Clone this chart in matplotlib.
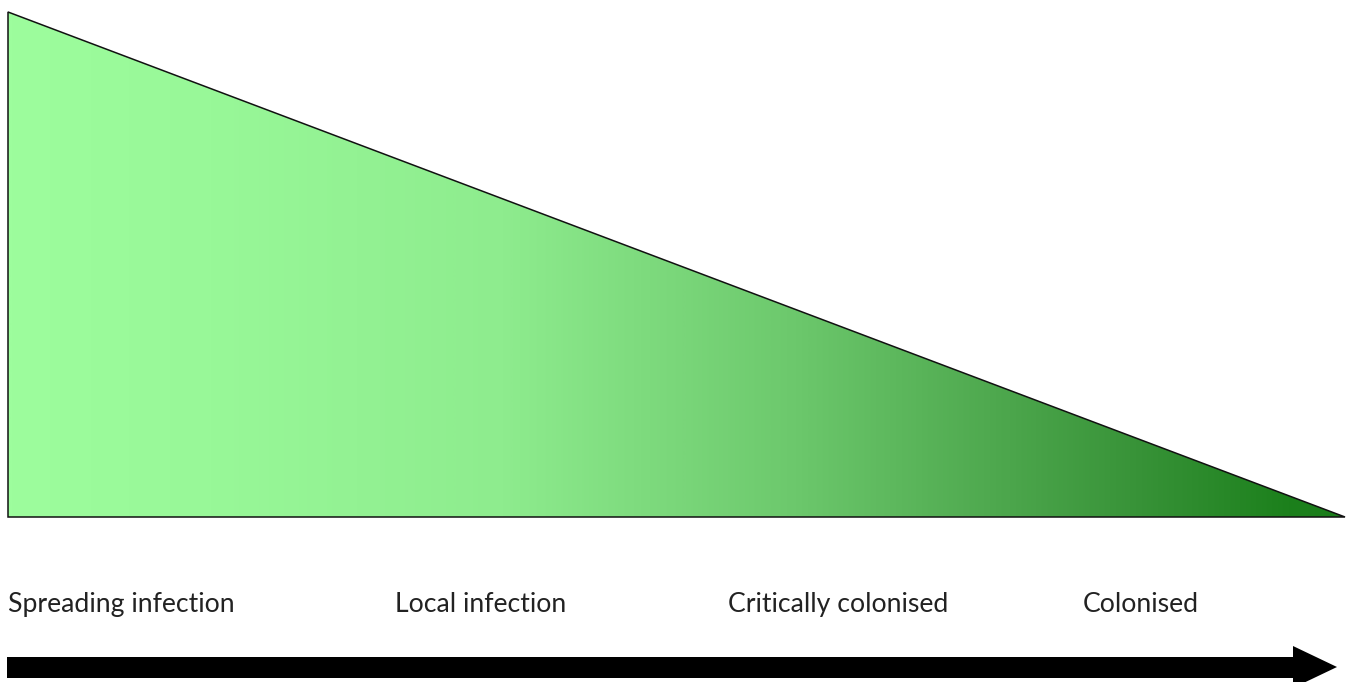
import numpy as np
import matplotlib
matplotlib.use('Agg')
import matplotlib.pyplot as plt
from matplotlib.patches import Polygon
from matplotlib.colors import LinearSegmentedColormap

# stage labels along the bottom, left to right
stages = ['Spreading infection', 'Local infection', 'Critically colonised', 'Colonised']
stage_x = [8, 395, 728, 1083]

# gradient colours sampled along the triangle (fraction of width, colour)
grad_pos = [0.0, 0.15, 0.37, 0.59, 0.74, 0.85, 0.96, 1.0]
grad_col = ['#9dfd9d', '#98f898', '#8eec8e', '#6cc86c', '#4ea84e', '#379237', '#1c801c', '#1a7d1a']

W, H = 1354, 682
tri = [(8, 12), (8, 517), (1345, 517)]

fig = plt.figure(figsize=(W / 100, H / 100), dpi=100)
ax = fig.add_axes([0, 0, 1, 1])
ax.set_xlim(0, W)
ax.set_ylim(H, 0)
ax.axis('off')

cmap = LinearSegmentedColormap.from_list('g', list(zip(grad_pos, grad_col)))
grad = np.linspace(0, 1, 512).reshape(1, -1)
x0, x1 = tri[0][0], tri[2][0]
y0, y1 = tri[0][1], tri[1][1]
im = ax.imshow(grad, cmap=cmap, aspect='auto', extent=(x0, x1, y1, y0),
               interpolation='bilinear')
patch = Polygon(tri, closed=True, facecolor='none', edgecolor='#111111', lw=1.1)
ax.add_patch(patch)
im.set_clip_path(patch)

for label, x in zip(stages, stage_x):
    ax.text(x, 612, label, fontsize=19.2, family='Lato', color='#222222',
            ha='left', va='baseline')

# arrow along the bottom
shaft_top, shaft_bot = 657, 678
head_base, tip = 1293, 1337
arrow = [(7, shaft_top), (head_base, shaft_top), (head_base, 646), (tip, 667),
         (head_base, 688), (head_base, shaft_bot), (7, shaft_bot)]
ax.add_patch(Polygon(arrow, closed=True, facecolor='black', edgecolor='none'))

fig.savefig('out.png', dpi=100)
